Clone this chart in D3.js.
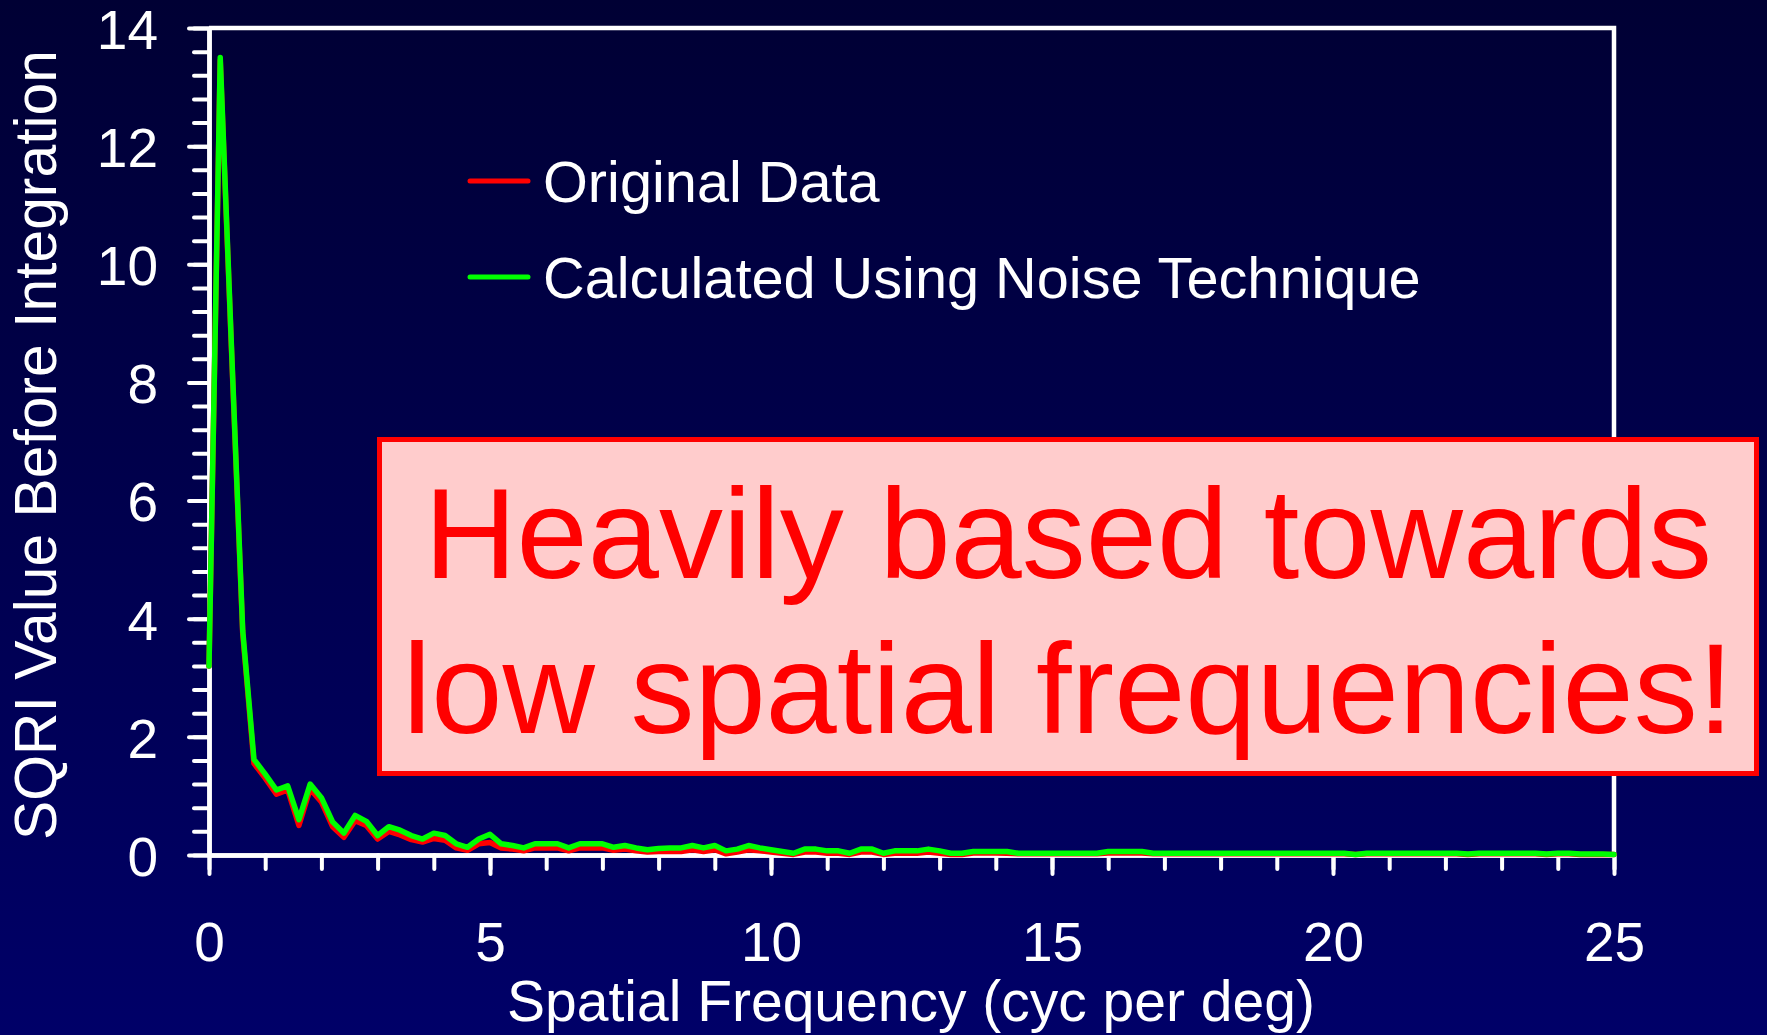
<!DOCTYPE html>
<html><head><meta charset="utf-8">
<script src="https://cdn.jsdelivr.net/npm/d3@7"></script>
<style>html,body{margin:0;padding:0;background:#000040;overflow:hidden}</style>
</head><body>
<svg id="chart" width="1767" height="1035"></svg>
<script>
// ---- data ----
const freqStep = 0.2;           // spacing of spatial-frequency samples (cyc/deg)
const xTickLabels = [0, 5, 10, 15, 20, 25];
const yTickLabels = [0, 2, 4, 6, 8, 10, 12, 14];
const seriesNames = ["Original Data", "Calculated Using Noise Technique"];
const annotationLines = ["Heavily based towards", "low spatial frequencies!"];
const xTitle = "Spatial Frequency (cyc per deg)";
const yTitle = "SQRI Value Before Integration";

const originalData = [
  3.2, 13.45, 8.55, 3.75, 1.55, 1.30, 1.03, 1.10, 0.50, 1.12,
  0.90, 0.48, 0.30, 0.58, 0.50, 0.27, 0.40, 0.34, 0.26, 0.22,
  0.28, 0.25, 0.12, 0.08, 0.19, 0.21, 0.12, 0.10, 0.07, 0.12,
  0.12, 0.12, 0.07, 0.12, 0.12, 0.12, 0.08, 0.10, 0.07, 0.05,
  0.06, 0.06, 0.06, 0.09, 0.06, 0.09, 0.02, 0.05, 0.09, 0.07,
  0.05, 0.03, 0.01, 0.05, 0.05, 0.03, 0.03, 0.01, 0.05, 0.05,
  0.01, 0.03, 0.03, 0.03, 0.05, 0.03, 0.01, 0.01, 0.035, 0.035,
  0.035, 0.03, 0.02, 0.02, 0.02, 0.02, 0.02, 0.02, 0.02, 0.02,
  0.035, 0.035, 0.035, 0.035, 0.02, 0.02, 0.02, 0.02, 0.02, 0.02,
  0.02, 0.02, 0.02, 0.02, 0.02, 0.02, 0.02, 0.02, 0.02, 0.02,
  0.02, 0.02, 0.01, 0.02, 0.02, 0.02, 0.02, 0.02, 0.02, 0.02,
  0.02, 0.02, 0.01, 0.02, 0.02, 0.02, 0.02, 0.02, 0.02, 0.01,
  0.02, 0.02, 0.01, 0.01, 0.01, 0.01
];
const noiseTechnique = [
  3.2, 13.5, 8.6, 3.8, 1.62, 1.37, 1.10, 1.17, 0.60, 1.20,
  0.97, 0.56, 0.37, 0.67, 0.57, 0.33, 0.48, 0.42, 0.33, 0.27,
  0.37, 0.33, 0.19, 0.13, 0.27, 0.35, 0.19, 0.16, 0.12, 0.19,
  0.19, 0.19, 0.12, 0.19, 0.19, 0.19, 0.13, 0.16, 0.12, 0.09,
  0.11, 0.12, 0.12, 0.16, 0.12, 0.16, 0.07, 0.10, 0.16, 0.12,
  0.09, 0.06, 0.03, 0.10, 0.10, 0.07, 0.07, 0.03, 0.10, 0.10,
  0.03, 0.07, 0.07, 0.07, 0.10, 0.07, 0.03, 0.03, 0.06, 0.06,
  0.06, 0.06, 0.03, 0.03, 0.03, 0.03, 0.03, 0.03, 0.03, 0.03,
  0.06, 0.06, 0.06, 0.06, 0.03, 0.03, 0.03, 0.03, 0.03, 0.03,
  0.03, 0.03, 0.03, 0.03, 0.03, 0.03, 0.03, 0.03, 0.03, 0.03,
  0.03, 0.03, 0.01, 0.03, 0.03, 0.03, 0.03, 0.03, 0.03, 0.03,
  0.03, 0.03, 0.015, 0.03, 0.03, 0.03, 0.03, 0.03, 0.03, 0.015,
  0.03, 0.03, 0.015, 0.015, 0.015, 0.01
];

// ---- layout ----
const W = 1767, H = 1035;
const FONT = "'Liberation Sans', Arial, Helvetica, sans-serif";
const svg = d3.select("#chart");

const defs = svg.append("defs");
const grad = defs.append("linearGradient").attr("id", "bg")
  .attr("x1", 0).attr("y1", 0).attr("x2", 0).attr("y2", 1);
grad.append("stop").attr("offset", "0%").attr("stop-color", "#000034");
grad.append("stop").attr("offset", "100%").attr("stop-color", "#000068");
svg.append("rect").attr("width", W).attr("height", H).attr("fill", "url(#bg)");

const x = d3.scaleLinear().domain([0, 25]).range([209, 1614]);
const y = d3.scaleLinear().domain([0, 14]).range([855, 28]);

// frame (top and right edges)
svg.append("path")
  .attr("d", d3.line()([[x(0), y(14)], [x(25), y(14)], [x(25), y(0)]]))
  .attr("fill", "none").attr("stroke", "#fff").attr("stroke-width", 4.5);

function styleAxis(g) {
  g.attr("color", "#fff").attr("font-family", FONT);
  g.select(".domain").attr("stroke-width", 4.5);
  g.selectAll(".tick line").attr("stroke-width", 4).attr("stroke-linecap", "round");
}

// y axis: minor ticks every 0.4, major with labels every 2
svg.append("g").attr("transform", `translate(${x(0)},0)`)
  .call(d3.axisLeft(y).tickValues(d3.range(0, 14.01, 0.4)).tickSize(15).tickSizeOuter(0).tickFormat(""))
  .call(styleAxis);
svg.append("g").attr("transform", `translate(${x(0)},0)`)
  .call(d3.axisLeft(y).tickValues(yTickLabels).tickSize(20).tickSizeOuter(0).tickPadding(31).tickFormat(d3.format("d")))
  .call(styleAxis)
  .call(g => g.selectAll("text").attr("font-size", 55).attr("dy", "0.37em"));

// x axis: minor ticks every 1, major with labels every 5
svg.append("g").attr("transform", `translate(0,${y(0)})`)
  .call(d3.axisBottom(x).tickValues(d3.range(0, 25.01, 1)).tickSize(14).tickSizeOuter(0).tickFormat(""))
  .call(styleAxis);
svg.append("g").attr("transform", `translate(0,${y(0)})`)
  .call(d3.axisBottom(x).tickValues(xTickLabels).tickSize(19).tickSizeOuter(0).tickPadding(48).tickFormat(d3.format("d")))
  .call(styleAxis)
  .call(g => g.selectAll("text").attr("font-size", 55));

// axis titles
svg.append("text").attr("x", 911).attr("y", 1021).attr("text-anchor", "middle")
  .attr("font-family", FONT).attr("font-size", 57).attr("fill", "#fff").text(xTitle);
svg.append("text").attr("transform", "translate(56,445) rotate(-90)").attr("text-anchor", "middle")
  .attr("font-family", FONT).attr("font-size", 58.8).attr("fill", "#fff").text(yTitle);

// series
const line = d3.line().x((d, i) => x(i * freqStep)).y(d => y(d));
const series = [
  { name: seriesNames[0], values: originalData, color: "#ff0000" },
  { name: seriesNames[1], values: noiseTechnique, color: "#00ff00" }
];
svg.append("g").selectAll("path").data(series).join("path")
  .attr("d", d => line(d.values))
  .attr("fill", "none").attr("stroke", d => d.color)
  .attr("stroke-width", 5.5).attr("stroke-linejoin", "round").attr("stroke-linecap", "round");

// legend
const leg = svg.append("g").selectAll("g").data(series).join("g")
  .attr("transform", (d, i) => `translate(0,${181 + i * 96})`);
leg.append("line").attr("x1", 470).attr("x2", 528).attr("y1", 0).attr("y2", 0)
  .attr("stroke", d => d.color).attr("stroke-width", 5).attr("stroke-linecap", "round");
leg.append("text").attr("x", 543).attr("y", 21).attr("font-family", FONT).attr("font-size", 57.7)
  .attr("fill", "#fff").text(d => d.name);

// annotation box
svg.append("rect").attr("x", 379.5).attr("y", 439.5).attr("width", 1377).attr("height", 334)
  .attr("fill", "#ffcccc").attr("stroke", "#ff0000").attr("stroke-width", 5);
svg.append("g").selectAll("text").data(annotationLines).join("text")
  .attr("x", 1068).attr("y", (d, i) => 578 + i * 155).attr("text-anchor", "middle")
  .attr("font-family", FONT).attr("font-size", 128).attr("fill", "#ff0000").text(d => d);
</script>
</body></html>
